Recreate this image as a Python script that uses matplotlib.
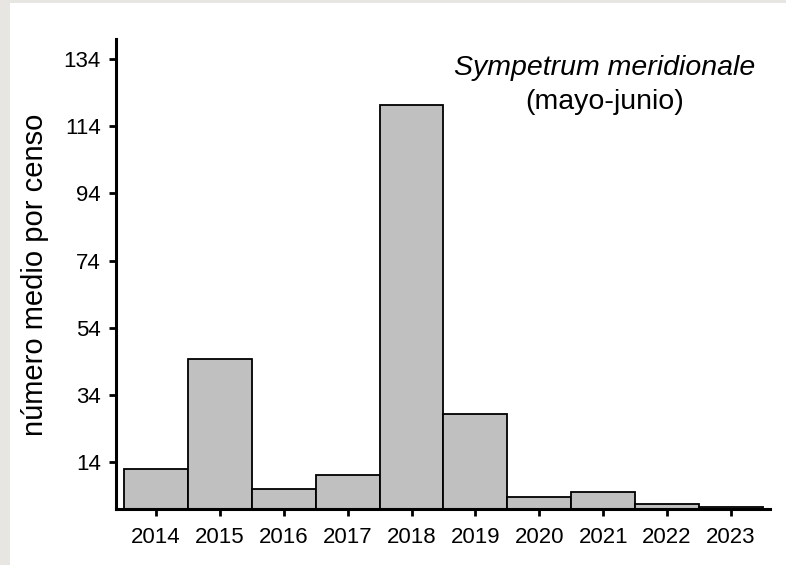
import matplotlib
matplotlib.use("Agg")
import matplotlib.pyplot as plt
from matplotlib.patches import Rectangle

years = [2014, 2015, 2016, 2017, 2018, 2019, 2020, 2021, 2022, 2023]
mean_count = [11.9, 44.6, 5.9, 10.1, 120.3, 28.3, 3.7, 5.2, 1.4, 0.5]
y_ticks = [14, 34, 54, 74, 94, 114, 134]

TITLE = "Sympetrum meridionale"
SUBTITLE = "(mayo-junio)"
Y_LABEL = "número medio por censo"

plt.rcParams['font.family'] = ['Liberation Sans', 'DejaVu Sans']

W, H = 786, 565
fig = plt.figure(figsize=(W / 100, H / 100), dpi=100)
fig.patch.set_facecolor('#e8e6e3')
# white panel inside the textured border
fig.patches.append(Rectangle((10 / W, 0), 1 - 10 / W, 1 - 3 / H,
                             transform=fig.transFigure, facecolor='white',
                             edgecolor='none', zorder=-1))

ax = fig.add_axes([116 / W, 1 - 509 / H, (770 - 116) / W, (509 - 39) / H])
ax.set_facecolor('none')
ax.set_zorder(2)

ax.bar(years, mean_count, width=1.0, color='#c0c0c0', edgecolor='black', linewidth=1.3)

ax.set_xlim(2013.375, 2023.61)
ax.set_ylim(0, 140)
ax.set_xticks(years)
ax.set_yticks(y_ticks)
ax.tick_params(axis='both', labelsize=16, width=2, length=5, direction='out')
ax.tick_params(axis='y', pad=6)
ax.tick_params(axis='x', pad=8)

for side in ['top', 'right']:
    ax.spines[side].set_visible(False)
for side in ['left', 'bottom']:
    ax.spines[side].set_linewidth(2.2)

fig.text(35 / W, 1 - 275 / H, Y_LABEL, rotation=90, ha='center', va='center', fontsize=21)
fig.text(605 / W, 1 - 68 / H, TITLE, ha='center', va='center', fontsize=20.5, style='italic')
fig.text(605 / W, 1 - 102 / H, SUBTITLE, ha='center', va='center', fontsize=20.5)

plt.savefig("out.png", dpi=100)
